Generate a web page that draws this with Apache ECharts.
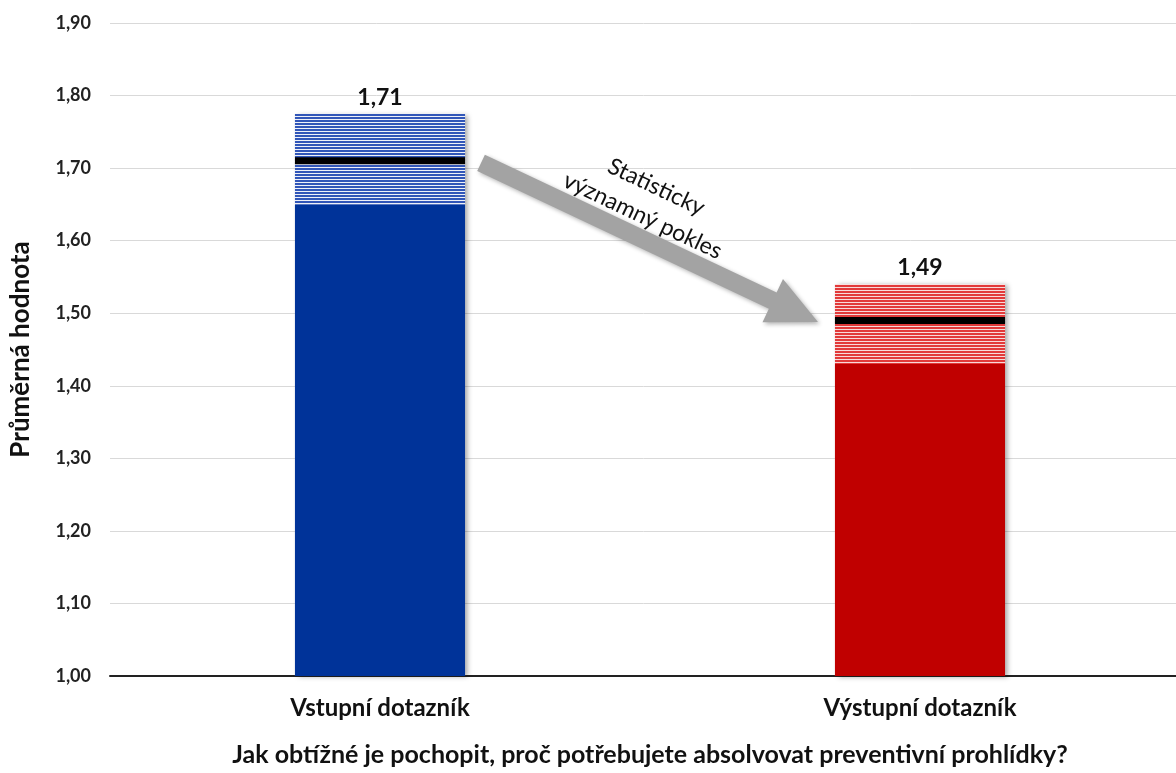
<!DOCTYPE html>
<html>
<head>
<meta charset="utf-8">
<script src="https://cdn.jsdelivr.net/npm/echarts@6/dist/echarts.min.js"></script>
<style>
html,body{margin:0;padding:0;background:#fff;overflow:hidden;}
#chart{width:1176px;height:773px;}
</style>
</head>
<body>
<div id="chart"></div>
<script>
// ---- data ----
const categories = ['Vstupní dotazník', 'Výstupní dotazník'];
const means = [1.71, 1.49];
const ciLower = [1.65, 1.43];
const ciUpper = [1.775, 1.54];
const yTicks = { min: 1.0, max: 1.9, interval: 0.1 };
const yAxisTitle = 'Průměrná hodnota';
const xAxisTitle = 'Jak obtížné je pochopit, proč potřebujete absolvovat preventivní prohlídky?';
const annotationText = 'Statisticky\nvýznamný pokles';

// ---- styles ----
const FONT = 'Lato, "Open Sans", sans-serif';
const solidColors = ['#003399', '#c00000'];
const stripeColors = [['#3156b8', '#eef1f8'], ['#e23a3a', '#f8dada']];

function stripePattern(c) {
  const cv = document.createElement('canvas');
  cv.width = 4; cv.height = 3;
  const ctx = cv.getContext('2d');
  ctx.fillStyle = c[1]; ctx.fillRect(0, 0, 4, 3);
  ctx.fillStyle = c[0]; ctx.fillRect(0, 0, 4, 2);
  return { image: cv, repeat: 'repeat' };
}
const patterns = stripeColors.map(stripePattern);

const seriesData = categories.map((c, i) => [i, ciLower[i], ciUpper[i], means[i]]);
const fmt = v => v.toFixed(2).replace('.', ',');

const GRID_LEFT = 110, GRID_WIDTH = 1080;
const chart = echarts.init(document.getElementById('chart'));
chart.setOption({
  backgroundColor: '#fff',
  animation: false,
  grid: { left: GRID_LEFT, top: 23, width: GRID_WIDTH, bottom: 97, outerBoundsMode: 'none', containLabel: false },
  xAxis: {
    type: 'category',
    data: categories,
    boundaryGap: true,
    axisLine: { lineStyle: { color: '#222', width: 2 } },
    axisTick: { show: false },
    axisLabel: { fontFamily: FONT, fontSize: 24, fontWeight: 'bold', color: '#111', margin: 20 },
    name: xAxisTitle,
    nameLocation: 'middle',
    nameGap: 66,
    nameTextStyle: { fontFamily: FONT, fontSize: 25, fontWeight: 'bold', color: '#111' }
  },
  yAxis: {
    type: 'value',
    min: yTicks.min, max: yTicks.max, interval: yTicks.interval,
    axisLine: { show: false },
    axisTick: { show: false },
    splitLine: { lineStyle: { color: '#d9d9d9', width: 1 } },
    axisLabel: { fontFamily: FONT, fontSize: 18, fontWeight: 'bold', color: '#222', margin: 19, formatter: v => fmt(v) },
    name: yAxisTitle,
    nameLocation: 'middle',
    nameRotate: 90,
    nameGap: 76,
    nameTextStyle: { fontFamily: FONT, fontSize: 26, fontWeight: 'bold', color: '#111' }
  },
  series: [{
    type: 'custom',
    data: seriesData,
    renderItem: function (params, api) {
      const idx = api.value(0);
      const lo = api.value(1), hi = api.value(2), mean = api.value(3);
      const w = api.size([1, 0])[0] * 0.315;
      const pBase = api.coord([idx, yTicks.min]);
      const pLo = api.coord([idx, lo]);
      const pHi = api.coord([idx, hi]);
      const pMean = api.coord([idx, mean]);
      const x0 = pBase[0] - w / 2;
      const shadow = { shadowBlur: 5, shadowOffsetX: 3, shadowOffsetY: 1, shadowColor: 'rgba(0,0,0,0.35)' };
      return {
        type: 'group',
        children: [
          { type: 'rect', shape: { x: x0, y: pHi[1], width: w, height: pBase[1] - pHi[1] },
            style: Object.assign({ fill: '#fff' }, shadow) },
          { type: 'rect', shape: { x: x0, y: pLo[1], width: w, height: pBase[1] - pLo[1] },
            style: { fill: solidColors[idx] } },
          { type: 'rect', shape: { x: x0, y: pHi[1], width: w, height: pLo[1] - pHi[1] },
            style: { fill: patterns[idx] } },
          { type: 'rect', shape: { x: x0, y: pMean[1] - 3.5, width: w, height: 7 },
            style: { fill: '#000' } },
          { type: 'text', x: pBase[0], y: pHi[1] - 5,
            style: { text: fmt(mean), fontFamily: FONT, fontSize: 23, fontWeight: 'bold', fill: '#111',
                     align: 'center', verticalAlign: 'bottom' } }
        ]
      };
    }
  }]
});

// ---- annotation arrow positioned from data coordinates ----
const bw = GRID_WIDTH / categories.length * 0.315;
const a = chart.convertToPixel({ gridIndex: 0 }, [0, means[0]]);
const b = chart.convertToPixel({ gridIndex: 0 }, [1, means[1]]);
const sx = a[0] + bw / 2 + 16, sy = a[1] + 2;
const ex = b[0] - bw / 2 - 17, ey = b[1] + 1.5;
const dx = ex - sx, dy = ey - sy, len = Math.hypot(dx, dy);
const ux = dx / len, uy = dy / len, nx = -uy, ny = ux;
const sh = 9, hh = 24, hl = 50;
const bx = ex - ux * hl, by = ey - uy * hl;
const pts = [
  [sx + nx * sh, sy + ny * sh],
  [bx + nx * sh, by + ny * sh],
  [bx + nx * hh, by + ny * hh],
  [ex, ey],
  [bx - nx * hh, by - ny * hh],
  [bx - nx * sh, by - ny * sh],
  [sx - nx * sh, sy - ny * sh]
];
const ang = Math.atan2(dy, dx);
const mx = (sx + ex) / 2, my = (sy + ey) / 2;
chart.setOption({
  graphic: [
    { type: 'polygon', shape: { points: pts }, z: 10,
      style: { fill: '#a3a3a3', shadowBlur: 4, shadowOffsetX: 2, shadowOffsetY: 2, shadowColor: 'rgba(0,0,0,0.3)' } },
    { type: 'text', x: mx, y: my - 41, rotation: -ang, z: 11,
      style: { text: annotationText, fontFamily: FONT, fontSize: 23, fill: '#111', align: 'center',
               verticalAlign: 'middle', lineHeight: 32 } }
  ]
});
</script>
</body>
</html>
